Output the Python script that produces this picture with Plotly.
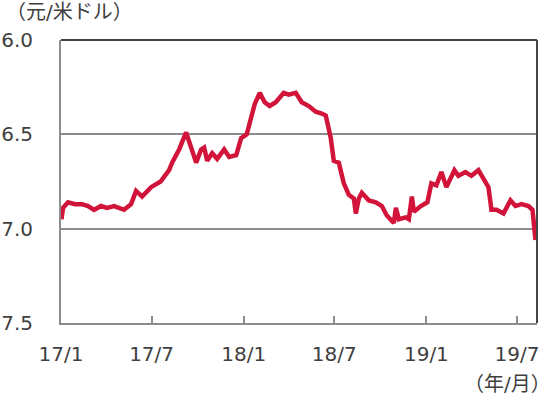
import plotly.graph_objects as go

# ── データ (人民元/米ドル、読み取り値) ─────────────────────────────────────
dates = [
    "2017-01-02", "2017-01-05", "2017-01-15", "2017-01-29", "2017-02-12", "2017-02-24",
    "2017-03-08", "2017-03-22", "2017-04-03", "2017-04-17", "2017-05-07", "2017-05-21",
    "2017-05-31", "2017-06-12", "2017-06-30", "2017-07-19", "2017-08-05", "2017-08-11",
    "2017-08-25", "2017-09-08", "2017-09-18", "2017-09-28", "2017-10-08", "2017-10-14",
    "2017-10-20", "2017-10-30", "2017-11-09", "2017-11-23", "2017-12-03", "2017-12-17",
    "2017-12-27", "2018-01-07", "2018-01-13", "2018-01-23", "2018-02-02", "2018-02-12",
    "2018-02-22", "2018-03-06", "2018-03-22", "2018-04-01", "2018-04-15", "2018-04-27",
    "2018-05-11", "2018-05-25", "2018-06-06", "2018-06-14", "2018-06-24", "2018-06-30",
    "2018-07-10", "2018-07-20", "2018-07-30", "2018-08-09", "2018-08-13", "2018-08-19",
    "2018-08-25", "2018-09-08", "2018-09-22", "2018-10-04", "2018-10-14", "2018-10-28",
    "2018-11-01", "2018-11-07", "2018-11-21", "2018-11-27", "2018-12-03", "2018-12-07",
    "2018-12-21", "2019-01-03", "2019-01-11", "2019-01-21", "2019-01-31", "2019-02-10",
    "2019-02-26", "2019-03-06", "2019-03-20", "2019-04-01", "2019-04-15", "2019-04-25",
    "2019-05-05", "2019-05-11", "2019-05-21", "2019-06-04", "2019-06-18", "2019-06-28",
    "2019-07-10", "2019-07-24", "2019-08-01", "2019-08-07",
]
cny_usd = [
    6.95, 6.89, 6.86, 6.87, 6.87, 6.88,
    6.90, 6.88, 6.89, 6.88, 6.90, 6.87,
    6.80, 6.83, 6.78, 6.75, 6.69, 6.65,
    6.58, 6.49, 6.57, 6.65, 6.58, 6.57,
    6.64, 6.60, 6.63, 6.58, 6.62, 6.61,
    6.52, 6.50, 6.44, 6.34, 6.28, 6.33,
    6.35, 6.33, 6.28, 6.29, 6.28, 6.33,
    6.35, 6.38, 6.39, 6.40, 6.52, 6.64,
    6.65, 6.76, 6.82, 6.84, 6.92, 6.84,
    6.81, 6.85, 6.86, 6.88, 6.93, 6.97,
    6.89, 6.95, 6.94, 6.95, 6.83, 6.91,
    6.88, 6.86, 6.76, 6.77, 6.70, 6.78,
    6.69, 6.72, 6.70, 6.72, 6.69, 6.73,
    6.78, 6.90, 6.90, 6.92, 6.85, 6.88,
    6.87, 6.88, 6.90, 7.06,
]

tick_dates = ["2017-01-01", "2017-07-01", "2018-01-01", "2018-07-01", "2019-01-01", "2019-07-01"]
tick_labels = ["17/1", "17/7", "18/1", "18/7", "19/1", "19/7"]
y_ticks = [6.0, 6.5, 7.0, 7.5]

LINE_COLOR = "#D2143A"
TEXT_COLOR = "#404040"
AXIS_GRAY = "#8C8C8C"
FONT = "DejaVu Sans, Noto Sans CJK JP, sans-serif"

fig = go.Figure()
fig.add_trace(go.Scatter(
    x=dates,
    y=cny_usd,
    mode="lines",
    line=dict(color=LINE_COLOR, width=4.5),
    showlegend=False,
))

fig.update_layout(
    width=550,
    height=400,
    paper_bgcolor="white",
    plot_bgcolor="white",
    margin=dict(l=61, r=13, t=40, b=77),
    font=dict(family=FONT, size=20, color=TEXT_COLOR),
    xaxis=dict(
        range=["2017-01-01", "2019-08-10"],
        tickvals=tick_dates,
        ticktext=tick_labels,
        ticks="inside",
        ticklen=7,
        tickwidth=2,
        tickcolor=AXIS_GRAY,
        showgrid=False,
        showline=True,
        linecolor=AXIS_GRAY,
        linewidth=2,
        zeroline=False,
        automargin=False,
        ticklabelstandoff=12,
    ),
    yaxis=dict(
        range=[7.5, 6.0],
        tickvals=y_ticks,
        tickformat=".1f",
        showgrid=True,
        gridcolor=AXIS_GRAY,
        gridwidth=1.5,
        showline=True,
        linecolor=AXIS_GRAY,
        linewidth=2,
        zeroline=False,
        automargin=False,
        ticks="",
        ticklabelstandoff=22,
    ),
    shapes=[
        # 上辺・右辺の濃い枠線
        dict(type="line", xref="paper", yref="paper", x0=0, x1=1, y0=1, y1=1,
             line=dict(color="#444444", width=2)),
        dict(type="line", xref="paper", yref="paper", x0=1, x1=1, y0=0, y1=1,
             line=dict(color="#444444", width=2)),
    ],
    annotations=[
        dict(text="（元/米ドル）", xref="paper", yref="paper", x=-0.12, y=1.05,
             xanchor="left", yanchor="bottom", showarrow=False,
             font=dict(size=20, color=TEXT_COLOR)),
        dict(text="（年/月）", xref="paper", yref="paper", x=1.034, y=-0.165,
             xanchor="right", yanchor="top", showarrow=False,
             font=dict(size=20, color=TEXT_COLOR)),
    ],
)

# ページ本体の既定余白 (8px) を消して 550x400 にぴったり合わせる
fig.write_html(
    "out.html",
    config={"displayModeBar": False},
    post_script="document.body.style.margin = '0';",
)
